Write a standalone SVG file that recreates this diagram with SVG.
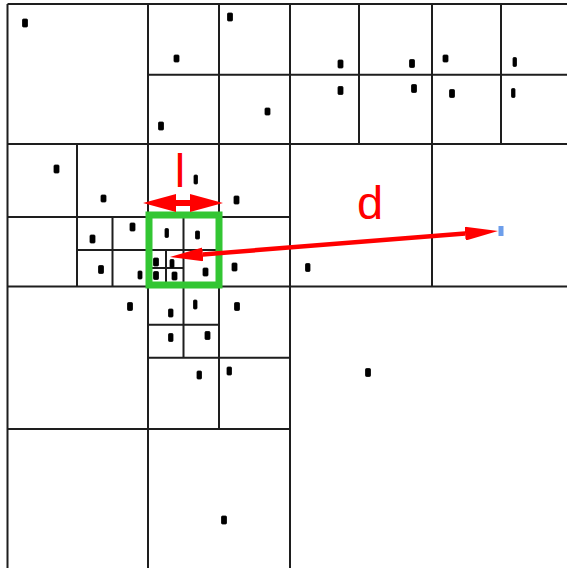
<svg xmlns="http://www.w3.org/2000/svg" width="567" height="568" viewBox="0 0 567 568">
<style>
.g{stroke:#1e1e1e;stroke-width:2;fill:none}
.p{fill:#000;stroke:#000;stroke-width:0.8}
.lab{font-family:"Liberation Sans",Arial,sans-serif;font-size:47px;fill:#ff0000}
.arr{stroke:#ff0000;fill:none}
</style>
<defs>
<marker id="hd" viewBox="0 -7 33 14" refX="0" refY="0" markerWidth="33" markerHeight="14" markerUnits="userSpaceOnUse" orient="auto-start-reverse"><path d="M0,-7 L33,0 L0,7 z" fill="#ff0000"/></marker>
<marker id="hl" viewBox="0 -9 33 18" refX="0" refY="0" markerWidth="33" markerHeight="18" markerUnits="userSpaceOnUse" orient="auto-start-reverse"><path d="M0,-9 L33,0 L0,9 z" fill="#ff0000"/></marker>
</defs>
<rect width="567" height="568" fill="#fff"/>
<g id="grid">
<path class="g" d="M7.5,4H567M7.5,4V568M290,4V568M7.5,286.5H567M148,4V568M432,4V286.5M7.5,144H567M7.5,429H290M219,4V429M148,74.7H567M359,4V144M501,4V144M77,144V286.5M7.5,217H290M112.5,217V286.5M77,250H219M183.5,217V357.7M166,250V286.5M148,268H183.5M148,357.7H290M148,324.7H219"/>
</g>
<g id="points">
<rect class="p" x="22.5" y="19" width="5" height="8" rx="1"/>
<rect class="p" x="174" y="55" width="5" height="7" rx="1"/>
<rect class="p" x="227.5" y="13" width="5" height="8" rx="1"/>
<rect class="p" x="265" y="108" width="5" height="7" rx="1"/>
<rect class="p" x="158.5" y="122" width="5" height="8" rx="1"/>
<rect class="p" x="54" y="165" width="5" height="8" rx="1"/>
<rect class="p" x="101" y="195" width="5" height="7" rx="1"/>
<rect class="p" x="194" y="175" width="3.5" height="9" rx="1"/>
<rect class="p" x="234" y="196" width="5" height="8" rx="1"/>
<rect class="p" x="130" y="223" width="5" height="8" rx="1"/>
<rect class="p" x="90" y="235" width="5" height="8" rx="1"/>
<rect class="p" x="165" y="228.5" width="3.5" height="9" rx="1"/>
<rect class="p" x="195.5" y="231" width="4" height="8" rx="1"/>
<rect class="p" x="98.5" y="265.5" width="5" height="8" rx="1"/>
<rect class="p" x="138" y="271" width="4" height="8" rx="1"/>
<rect class="p" x="153.5" y="258" width="5" height="8" rx="1"/>
<rect class="p" x="153.5" y="271.5" width="5" height="8" rx="1"/>
<rect class="p" x="170" y="259.5" width="4" height="8" rx="1"/>
<rect class="p" x="172" y="272" width="5" height="8" rx="1"/>
<rect class="p" x="203" y="268" width="5" height="8" rx="1"/>
<rect class="p" x="232" y="263" width="5" height="8" rx="1"/>
<rect class="p" x="338" y="60" width="5" height="8" rx="1"/>
<rect class="p" x="409.5" y="59.5" width="5" height="8" rx="1"/>
<rect class="p" x="443" y="55" width="5" height="7" rx="1"/>
<rect class="p" x="513" y="57.5" width="3.5" height="9" rx="1"/>
<rect class="p" x="338" y="86.5" width="5" height="8" rx="1"/>
<rect class="p" x="411.5" y="84.5" width="5" height="8" rx="1"/>
<rect class="p" x="449.5" y="89.5" width="5" height="8" rx="1"/>
<rect class="p" x="511.5" y="88.5" width="3.5" height="9" rx="1"/>
<rect class="p" x="305.5" y="263.5" width="4.5" height="8" rx="1"/>
<rect class="p" x="127.5" y="302.5" width="5" height="8" rx="1"/>
<rect class="p" x="168.5" y="309" width="4.5" height="8" rx="1"/>
<rect class="p" x="193.5" y="300" width="3.5" height="9" rx="1"/>
<rect class="p" x="234.5" y="302.5" width="5" height="8" rx="1"/>
<rect class="p" x="168.5" y="333.5" width="4.5" height="8" rx="1"/>
<rect class="p" x="205" y="331.5" width="5" height="8" rx="1"/>
<rect class="p" x="197" y="371" width="4.5" height="8" rx="1"/>
<rect class="p" x="227" y="367" width="4.5" height="8" rx="1"/>
<rect class="p" x="221.5" y="516" width="5" height="8" rx="1"/>
<rect class="p" x="365.5" y="368.5" width="5" height="8" rx="1"/>
</g>
<g id="cell">
<rect x="149" y="215" width="70" height="70" fill="none" stroke="#33c633" stroke-width="7"/>
</g>
<g id="connectors">
<path class="arr" stroke-width="6" d="M176,203H190" marker-start="url(#hl)" marker-end="url(#hl)"/>
<path class="arr" stroke-width="4.5" d="M202.9,254.4L465.1,233.6" marker-start="url(#hd)" marker-end="url(#hd)"/>
</g>
<g id="target">
<rect x="498.5" y="226" width="5" height="10" fill="#6d9eeb"/>
</g>
<g id="labels">
<text class="lab" x="174.7" y="187">l</text>
<text class="lab" x="357" y="219">d</text>
</g>
</svg>
